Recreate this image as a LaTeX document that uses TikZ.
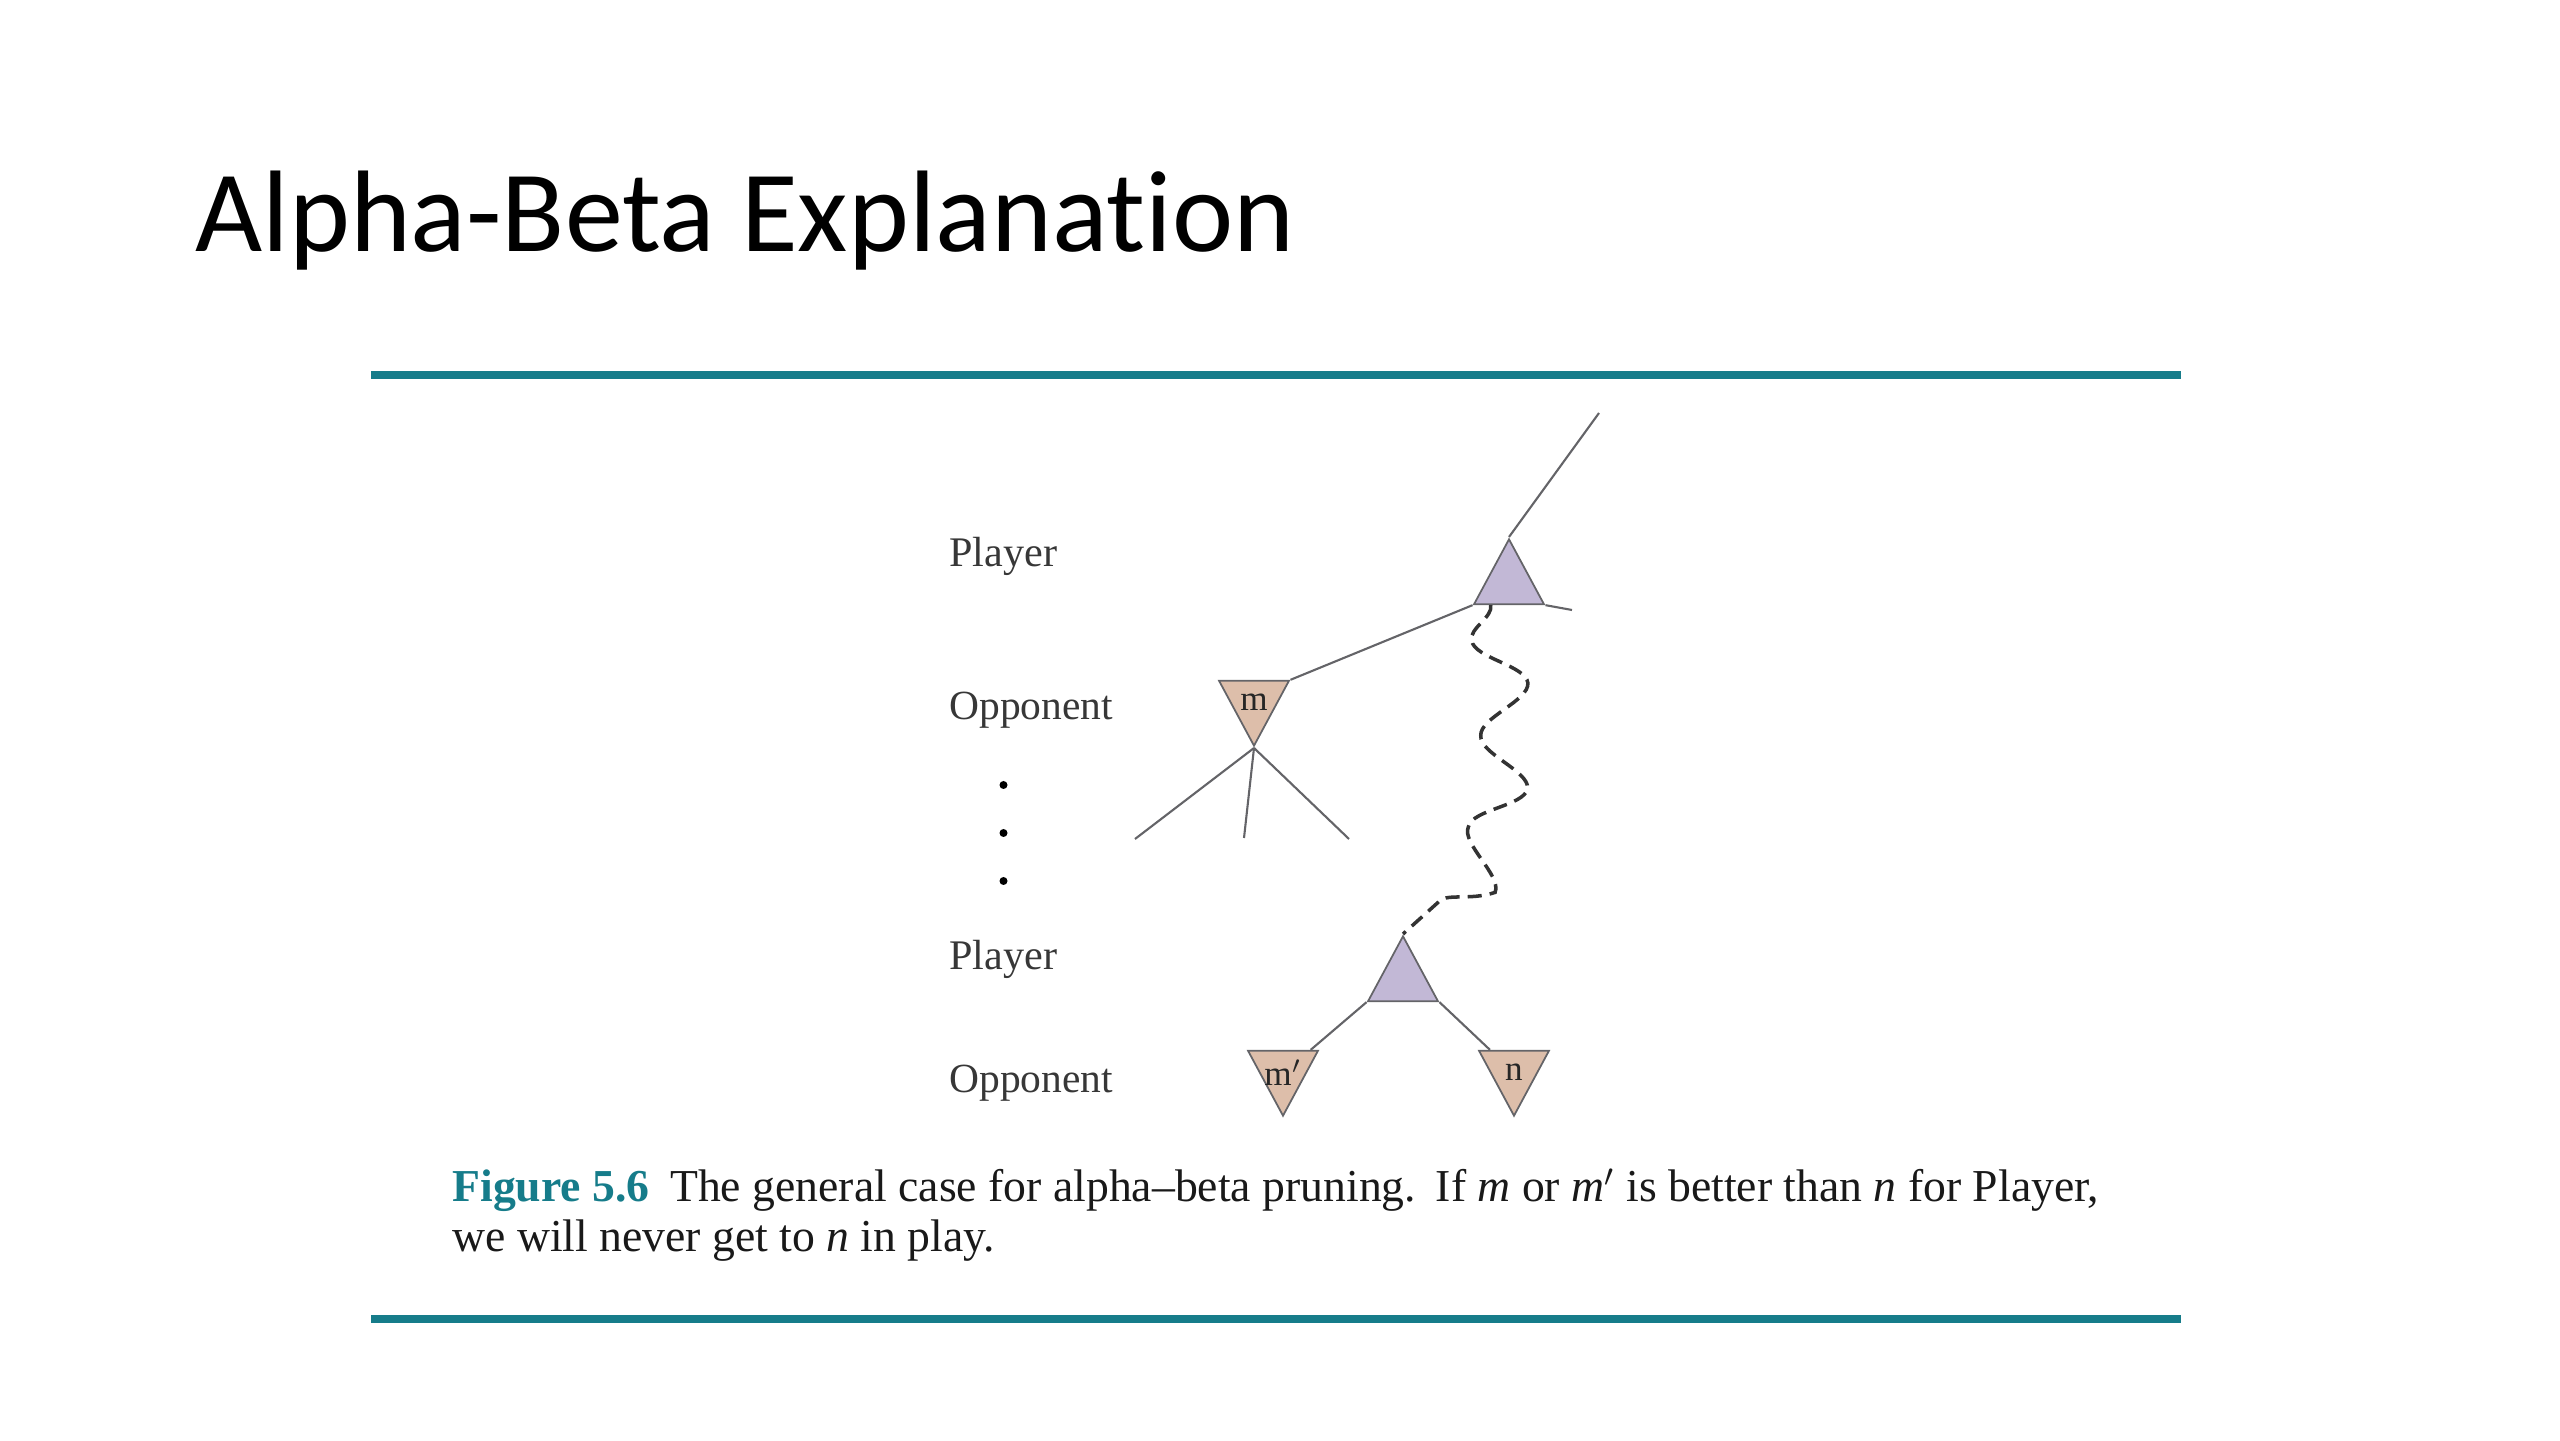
\documentclass[tikz,border=0pt]{standalone}
\usepackage{fontspec}
\setmainfont{Liberation Serif}
\newfontfamily\titlefont[Ligatures=NoCommon]{Carlito}
\usetikzlibrary{calc,shapes.geometric,decorations.pathmorphing}
\definecolor{figteal}{RGB}{22,124,138}
\definecolor{maxfill}{RGB}{194,184,214}
\definecolor{minfill}{RGB}{221,190,170}
\definecolor{edgegray}{RGB}{100,100,104}
\definecolor{labelgray}{RGB}{55,55,55}

\begin{document}
\begin{tikzpicture}[
    maxtri/.style={isosceles triangle, isosceles triangle stretches, shape border rotate=90,
        minimum width=7mm, minimum height=6.5mm, inner sep=0pt, draw=edgegray, fill=maxfill, line width=0.5pt},
    mintri/.style={maxtri, shape border rotate=270, fill=minfill},
    branch/.style={edgegray, line width=0.6pt},
    wavy/.style={decorate, decoration={snake, amplitude=2.5mm, segment length=10mm, mirror},
        dash pattern=on 4pt off 2.3pt, line width=1pt, black!80},
    level/.style={anchor=base west, labelgray},
    trilabel/.style={font=\fontsize{10}{12}\selectfont, black!85},
    rule/.style={figteal, line width=2.2pt}
]
    \useasboundingbox (0,0) rectangle (25.6,14.4);

    \node[anchor=base west, font=\titlefont\fontsize{33}{40}\selectfont] (title) at (1.83,11.88) {Alpha-Beta Explanation};
    \draw[rule] (3.71,10.65) -- (21.81,10.65);
    \draw[rule] (3.71,1.21) -- (21.81,1.21);

    % level names
    \node[level, font=\fontsize{12}{14}\selectfont] (lvPlayer) at (9.37,8.73) {Player};
    \node[level, font=\fontsize{11.8}{14}\selectfont] (lvOpp) at (9.37,7.20) {Opponent};
    \node[level, font=\fontsize{12}{14}\selectfont] (lvPlayerB) at (9.37,4.70) {Player};
    \node[level, font=\fontsize{11.8}{14}\selectfont] (lvOppB) at (9.37,3.47) {Opponent};
    \foreach \y in {6.55,6.07,5.59}
        \fill (10.035,\y) circle (0.04);

    % tree
    \node[maxtri, anchor=apex] (pTop) at (15.09,9.03) {};
    \node[mintri, anchor=apex] (oM) at (12.54,6.92) {};
    \node[maxtri, anchor=apex] (pBot) at (14.03,5.06) {};
    \node[mintri, anchor=apex] (oMp) at (12.83,3.22) {};
    \node[mintri, anchor=apex] (oN) at (15.14,3.22) {};

    \node[trilabel] (mLab) at ($(oM.apex)!2/3!(oM.lower side)$) {m};
    \node[trilabel] (mpLab) at ($(oMp.apex)!2/3!(oMp.lower side)$) {m$'$};
    \node[trilabel] (nLab) at ($(oN.apex)!2/3!(oN.lower side)$) {n};

    \coordinate (rootUp) at (15.99,10.27);
    \coordinate (sideStub) at (15.72,8.30);
    \coordinate (mc1) at (11.35,6.01);
    \coordinate (mc2) at (12.44,6.02);
    \coordinate (mc3) at (13.49,6.01);
    \coordinate (waveStart) at ($(pTop.left corner)!0.25!(pTop.right corner)$);

    \draw[branch] (pTop.apex) -- (rootUp);
    \draw[branch] (pTop.right corner) -- (sideStub);
    \draw[branch] (pTop.left corner) -- (oM.left corner);
    \draw[branch] (oM.apex) -- (mc1);
    \draw[branch] (oM.apex) -- (mc2);
    \draw[branch] (oM.apex) -- (mc3);
    \draw[branch] (pBot.left corner) -- ($(oMp.left corner)!0.12!(oMp.right corner)$);
    \draw[branch] (pBot.right corner) -- ($(oN.right corner)!0.17!(oN.left corner)$);
    \draw[wavy] (waveStart) to[out=-80,in=40] (pBot.apex);

    % caption
    \node[anchor=base west, font=\fontsize{13}{14}\selectfont, black!90] (capA) at (4.40,2.38)
        {\textbf{\color{figteal}Figure 5.6}\hspace{0.2em} The general case for alpha--beta pruning.\hspace{0.1em} If \textit{m} or \textit{m}$'$ is better than \textit{n} for Player,};
    \node[anchor=base west, font=\fontsize{13}{14}\selectfont, black!90] (capB) at (4.40,1.89)
        {we will never get to \textit{n} in play.};
\end{tikzpicture}
\end{document}
